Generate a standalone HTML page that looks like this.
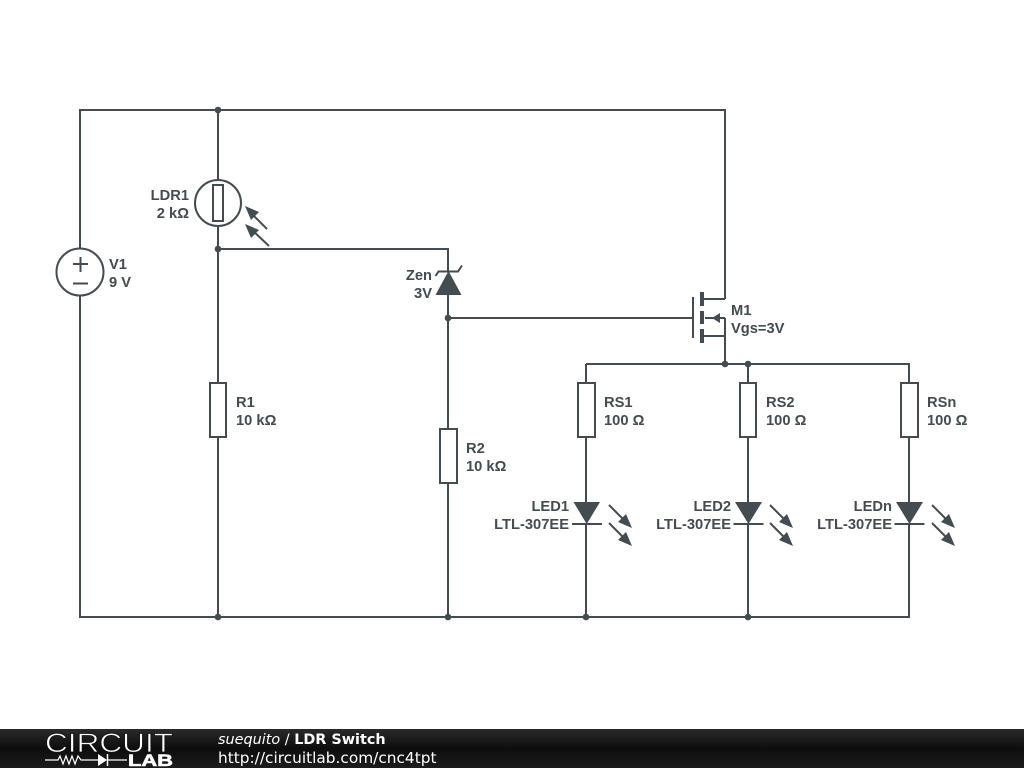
<!DOCTYPE html>
<html>
<head>
<meta charset="utf-8">
<style>
html,body{margin:0;padding:0;background:#fff}
body{width:1024px;height:768px;overflow:hidden}
svg{display:block}
.l{font-family:"Liberation Sans",sans-serif;font-weight:bold;font-size:14.7px;fill:#434c50}
.w{fill:none;stroke:#434c50;stroke-width:2}
.f{fill:#434c50;stroke:none}
.b{fill:#fff;stroke:#434c50;stroke-width:2}
.ft{font-family:"DejaVu Sans",sans-serif;font-size:14.4px;fill:#fff}
</style>
</head>
<body>
<svg width="1024" height="768" viewBox="0 0 1024 768" xmlns="http://www.w3.org/2000/svg">
<defs>
<linearGradient id="g" x1="0" y1="0" x2="0" y2="1">
<stop offset="0" stop-color="#2a2a2a"/><stop offset="0.5" stop-color="#0d0d0d"/><stop offset="1" stop-color="#1c1c1c"/>
</linearGradient>
</defs>
<rect width="1024" height="768" fill="#fff"/>

<!-- wires -->
<path class="w" d="M725 299V110H80V617H909V524M725 299H702M725 318V364M725 318H705M725 336H702M586 364H909V383M218 110V383M218 437V617M218 249H448V272M448 294V429M448 483V617M448 318H693M586 364V383M586 437V502M586 524V617M748 364V383M748 437V502M748 524V617M909 437V502"/>

<!-- V1 -->
<circle class="b" cx="80" cy="272" r="23.5"/>
<path class="w" d="M73 264H88M80.500 257V272M73 283.500H88"/>
<text class="l" x="109" y="269">V1</text>
<text class="l" x="109" y="287">9 V</text>

<!-- LDR1 -->
<circle class="b" cx="218" cy="203" r="23"/>
<rect class="b" x="213" y="185" width="10" height="36"/>
<text class="l" x="189" y="200" text-anchor="end">LDR1</text>
<text class="l" x="189" y="218" text-anchor="end">2 kΩ</text>
<path class="w" d="M267 229L250 212M269 246L251 229"/>
<path class="f" d="M245 206L259 212L251 220ZM245 224L259 230L251 238Z"/>

<!-- R1 -->
<rect class="b" x="210" y="383" width="16" height="54"/>
<text class="l" x="236" y="407">R1</text>
<text class="l" x="236" y="425">10 kΩ</text>

<!-- Zener -->
<path class="f" d="M448.500 271L461.500 295H435.500Z"/>
<path class="w" d="M435.500 276L438.500 271.500H458L462 265.500"/>
<text class="l" x="432" y="280" text-anchor="end">Zen</text>
<text class="l" x="432" y="298" text-anchor="end">3V</text>

<!-- R2 -->
<rect class="b" x="440" y="429" width="17" height="54"/>
<text class="l" x="466" y="453">R2</text>
<text class="l" x="466" y="471">10 kΩ</text>

<!-- MOSFET -->
<path class="w" d="M693 297V338"/>
<path d="M702 292V306M702 311V324M702 329V343" fill="none" stroke="#434c50" stroke-width="4"/>
<path class="f" d="M712 318L720 313V323Z"/>
<text class="l" x="731" y="315">M1</text>
<text class="l" x="731" y="333">Vgs=3V</text>

<!-- RS1 / LED1 -->
<rect class="b" x="578" y="383" width="17" height="54"/>
<text class="l" x="604" y="407">RS1</text>
<text class="l" x="604" y="425">100 Ω</text>
<path class="f" d="M573.500 502H600L586.700 524Z"/>
<path class="w" d="M572 524H602"/>
<text class="l" x="569" y="511" text-anchor="end">LED1</text>
<text class="l" x="569" y="529" text-anchor="end">LTL-307EE</text>
<path class="w" d="M609 505L626 522M609 523L626 540"/>
<path class="f" d="M632 528L618 522L626 514ZM632 546L618 540L626 532Z"/>

<!-- RS2 / LED2 -->
<rect class="b" x="740" y="383" width="16" height="54"/>
<text class="l" x="766" y="407">RS2</text>
<text class="l" x="766" y="425">100 Ω</text>
<path class="f" d="M735 502H762L748.500 524Z"/>
<path class="w" d="M733.500 524H763.500"/>
<text class="l" x="731" y="511" text-anchor="end">LED2</text>
<text class="l" x="731" y="529" text-anchor="end">LTL-307EE</text>
<path class="w" d="M770 505L787 522M770 523L787 540"/>
<path class="f" d="M793 528L779 522L787 514ZM793 546L779 540L787 532Z"/>

<!-- RSn / LEDn -->
<rect class="b" x="901" y="383" width="17" height="54"/>
<text class="l" x="927" y="407">RSn</text>
<text class="l" x="927" y="425">100 Ω</text>
<path class="f" d="M896 502H923L909.500 524Z"/>
<path class="w" d="M894.500 524H924.500"/>
<text class="l" x="892" y="511" text-anchor="end">LEDn</text>
<text class="l" x="892" y="529" text-anchor="end">LTL-307EE</text>
<path class="w" d="M932 505L949 522M932 523L949 540"/>
<path class="f" d="M955 528L941 522L949 514ZM955 546L941 540L949 532Z"/>

<!-- junctions -->
<g class="f">
<circle cx="218" cy="110" r="3.300"/>
<circle cx="218" cy="249" r="3.300"/>
<circle cx="218" cy="617" r="3.300"/>
<circle cx="448" cy="318" r="3.300"/>
<circle cx="448" cy="617" r="3.300"/>
<circle cx="725" cy="364" r="3.300"/>
<circle cx="748" cy="364" r="3.300"/>
<circle cx="586" cy="617" r="3.300"/>
<circle cx="748" cy="617" r="3.300"/>
</g>

<!-- footer -->
<rect x="0" y="729" width="1024" height="39" fill="url(#g)"/>
<text x="45" y="752" font-family="'Liberation Sans',sans-serif" font-size="26.500" fill="#fff" stroke="#111" stroke-width="0.700" textLength="128" lengthAdjust="spacingAndGlyphs">CIRCUIT</text>
<path d="M45 760H58L60 756L63 764L66 756L69 764L72 756L75 764L78 756L81 760H98M108 760H127" fill="none" stroke="#fff" stroke-width="1.200"/>
<path d="M98 754V766L107 760Z" fill="#fff"/>
<path d="M107.500 754V766" stroke="#fff" stroke-width="1.500"/>
<text x="128" y="766" font-family="'Liberation Sans',sans-serif" font-size="16.500" font-weight="bold" fill="#fff" stroke="#fff" stroke-width="0.600" textLength="45" lengthAdjust="spacingAndGlyphs">LAB</text>
<text class="ft" x="218" y="744"><tspan font-style="italic">suequito</tspan> / <tspan font-weight="bold">LDR Switch</tspan></text>
<text class="ft" x="218" y="763" style="font-size:15.350px">http://circuitlab.com/cnc4tpt</text>
</svg>
</body>
</html>
